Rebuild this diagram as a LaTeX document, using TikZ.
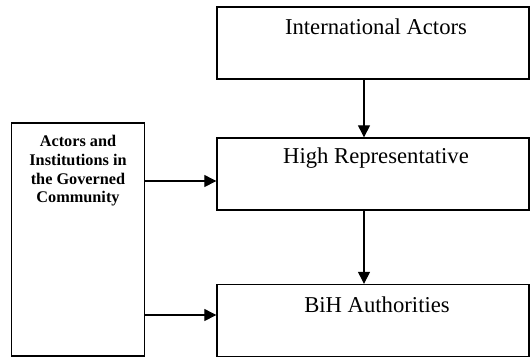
\documentclass[tikz,border=0pt]{standalone}
\usepackage{fontspec}
\setmainfont{Liberation Serif}
\usetikzlibrary{arrows.meta}
\begin{document}
\begin{tikzpicture}[x=0.75pt,y=-0.75pt,
  box/.style={draw=black, line width=1pt, rectangle, inner sep=0pt},
  rbox/.style={box, minimum width=312*0.75pt, minimum height=72*0.75pt},
  lbl/.style={font=\fontsize{17}{20}\selectfont, inner sep=0pt},
  side/.style={font=\fontsize{12.2}{14}\selectfont\bfseries, align=center, inner sep=0pt},
  arr/.style={draw=black, line width=0.8pt, -{Triangle[length=9pt,width=9pt]}}]
\useasboundingbox (0,0) rectangle (530,358);
\node[rbox] (ia) at (373,43) {};
\node[rbox] (hr) at (373,174) {};
\node[rbox] (bih) at (373,320.5) {};
\node[box, minimum width=133*0.75pt, minimum height=233*0.75pt] (gc) at (78,239.5) {};
\node[lbl] (iat) at (376,27) {International Actors};
\node[lbl] (hrt) at (376,158) {High Representative};
\node[lbl] (biht) at (377,305) {BiH Authorities};
\node[side] (gct) at (78,171) {Actors and\\Institutions in\\the Governed\\Community};
\draw[arr] (ia.south -| 364,0) -- (hr.north -| 364,0);
\draw[arr] (hr.south -| 364,0) -- (bih.north -| 364,0);
\draw[arr] (gc.east |- 0,181) -- (hr.west |- 0,181);
\draw[arr] (gc.east |- 0,315) -- (bih.west |- 0,315);
\end{tikzpicture}
\end{document}
